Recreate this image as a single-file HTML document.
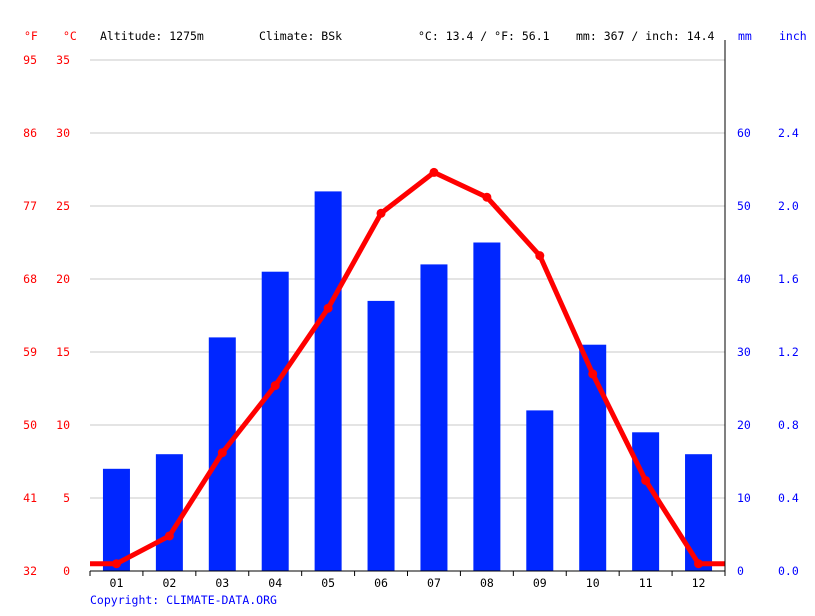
<!DOCTYPE html>
<html><head><meta charset="utf-8"><style>
body{margin:0;background:#fff;}
svg text{font-family:"DejaVu Sans Mono","Liberation Mono",monospace;font-size:11.5px;}
</style></head><body>
<svg width="815" height="611" viewBox="0 0 815 611">
<g id="hdr">
<text x="24" y="40" fill="#f00">°F</text>
<text x="63" y="40" fill="#f00">°C</text>
<text x="100" y="40" fill="#000">Altitude: 1275m</text>
<text x="259" y="40" fill="#000">Climate: BSk</text>
<text x="418" y="40" fill="#000">°C: 13.4 / °F: 56.1</text>
<text x="576" y="40" fill="#000">mm: 367 / inch: 14.4</text>
<text x="738" y="40" fill="#00f">mm</text>
<text x="779" y="40" fill="#00f">inch</text>
</g>
<g id="grid"></g><g id="bars"></g><g id="line"></g><g id="axes"></g>
<text x="90" y="604" fill="#00f">Copyright: CLIMATE-DATA.ORG</text>
</svg>
<script>
const months=["01","02","03","04","05","06","07","08","09","10","11","12"];
const precip=[14,16,32,41,52,37,42,45,22,31,19,16];
const temps=[0.5,2.4,8.1,12.7,18.0,24.5,27.3,25.6,21.6,13.5,6.2,0.5];
const cTicks=[0,5,10,15,20,25,30,35];
const fTicks=[32,41,50,59,68,77,86,95];
const mmTicks=[0,10,20,30,40,50,60];
const inTicks=["0.0","0.4","0.8","1.2","1.6","2.0","2.4"];
const NS="http://www.w3.org/2000/svg";
const X0=90,X1=725,Y0=571,Y35=60;
const yC=c=>Y0-(Y0-Y35)*c/35;
const yMM=m=>Y0-m*(Y0-133)/60;
const step=(X1-X0)/12;
const xM=i=>X0+step*(i+0.5);
function mk(t,a,p){const e=document.createElementNS(NS,t);for(const k in a)e.setAttribute(k,a[k]);document.getElementById(p).appendChild(e);return e;}
cTicks.forEach((c,i)=>{
 const y=yC(c);
 if(c>0){const g=mk("line",{x1:X0,x2:X1,y1:y,y2:y,stroke:"#c8c8c8","stroke-width":1},"grid");
 
 }
 const t=mk("text",{x:70,y:y+4,fill:"#f00","text-anchor":"end"},"axes");t.textContent=c;
 
 
 const f=mk("text",{x:37,y:y+4,fill:"#f00","text-anchor":"end"},"axes");f.textContent=fTicks[i];
 
 
});
mmTicks.forEach((m,i)=>{
 const y=yMM(m);
 const t=mk("text",{x:737,y:y+4,fill:"#00f"},"axes");t.textContent=m;
 
 
 const u=mk("text",{x:778,y:y+4,fill:"#00f"},"axes");u.textContent=inTicks[i];
 
 
});
precip.forEach((p,i)=>{
 const b=mk("rect",{x:xM(i)-13.5,y:yMM(p),width:27,height:Y0-yMM(p),fill:"#0026ff"},"bars");
 
 
 const t=mk("text",{x:xM(i),y:587,fill:"#000","text-anchor":"middle"},"axes");t.textContent=months[i];
 
 
 const tk=mk("line",{x1:X0+step*i,x2:X0+step*i,y1:Y0,y2:Y0+5,stroke:"#000"},"axes");
 
 
});
const ax=mk("line",{x1:X0,x2:X1,y1:Y0,y2:Y0,stroke:"#000"},"axes");


const ay=mk("line",{x1:X1,x2:X1,y1:40,y2:Y0+5,stroke:"#000"},"axes");


let pts=[[X0,yC(temps[0])]];
temps.forEach((t,i)=>pts.push([xM(i),yC(t)]));
pts.push([X1,yC(temps[11])]);
const pl=mk("polyline",{points:pts.map(p=>p.join(",")).join(" "),fill:"none",stroke:"#f00","stroke-width":5,"stroke-linejoin":"round"},"line");


temps.forEach((t,i)=>{
 const c=mk("circle",{cx:xM(i),cy:yC(t),r:4.5,fill:"#f00"},"line");
 
 
});
</script>
</body></html>
